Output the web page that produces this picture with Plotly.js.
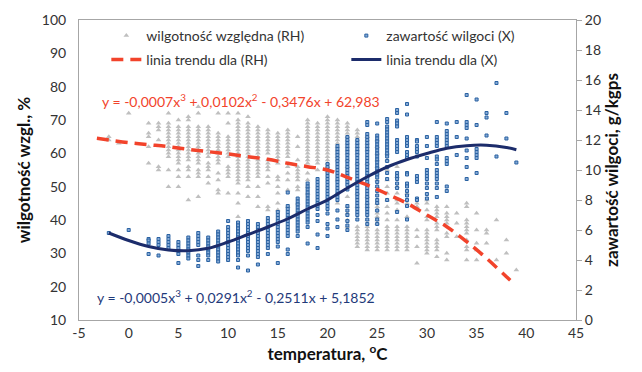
<!DOCTYPE html>
<html><head><meta charset="utf-8">
<script src="https://cdn.plot.ly/plotly-3.0.1.min.js"></script>
<style>html,body{margin:0;padding:0;background:#fff}#chart{width:642px;height:372px}</style>
</head><body><div id="chart"></div>
<script>
// Relative humidity (RH, %) readings, grouped by temperature column (°C)
const rhTemps = [-2,-1,0,2,3,4,5,6,7,8,9,10,11,12,13,14,15,16,17,18,19,20,21,22,23,24,25,26,27,28,29,30,31,32,33,34,35,36,37,38,39];
const rhValues = [
  [65,64],[63],[72],[69,66,65,62,57],[69,68,67,64,56,55],
  [72,69,68,67,66,65,64,63,62,61,60,59,55,50],
  [70,68,67,66,65,64,63,62,61,60,59,58,57,55,53,50],
  [71,70,68,67,66,65,64,63,62,61,60,59,58,56,55,53,46],
  [74,72,68,67,66,65,64,63,62,61,60,59,58,57,55,54,53,47],
  [68,67,66,65,64,63,62,61,60,59,57,56,55,53,51],
  [72,66,65,64,63,62,61,60,59,58,57,54,52,49,48],
  [72,69,65,64,63,62,61,60,59,56,55,54,53,48],
  [72,70,69,68,67,66,65,64,63,62,61,60,59,58,57,56,55,54,53,52,51,48,45,41],
  [71,69,68,67,66,65,64,63,62,61,60,59,58,57,56,55,54,53,52,50,47],
  [68,67,66,65,64,63,62,61,60,59,58,57,56,55,54,53,50,47,44],
  [67,66,65,64,63,62,61,60,58,57,56,55,53,51,44,43],
  [66,65,64,63,62,61,60,59,58,57,53,52,50,48,45,43],
  [67,66,65,64,63,62,61,60,59,56,54,52,49,44],
  [65,62,58,56,55,54,53,52,50,49,45],
  [70,69,68,67,66,65,64,63,62,61,60,59,58,57,54,52,50,48],
  [69,68,67,66,65,64,63,62,61,60,59,58,57,55],
  [71,70,69,68,67,66,65,64,63,62,61,60,59,58,57,56,55],
  [70,69,68,67,66,65,64,63,62,61,60,59,58,52,48,45],
  [69,68,67,66,65,64,63,62,61,60,58,56,53,47,44,42,40,38],
  [67,66,65,64,63,62,61,60,57,52,48,44,38,37,36,35,34,33,32],
  [65,64,63,62,61,57,53,51,47,45,44,40,38,37,36,35,34,33,32,31],
  [64,62,60,58,56,54,52,50,45,44,43,42,41,40,39,37,36,35,34,33,32,31],
  [60,58,55,52,50,48,46,44,42,40,38,37,36,35,34,33,32,31],
  [56,53,50,48,46,45,43,40,38,37,36,35,34,33,32,31],
  [48,45,41,38,37,36,35,34,33,32,31],
  [45,44,37,35,32,27],
  [46,45,43,41,40,37,36,35,34,33,32,31,30],
  [44,43,42,41,39,38,37,34,33,32,31,29],
  [44,42,41,40,39,36,35,30,28],
  [42,39,35],
  [45,44,40,39,38,37,36,34,32,31,28],
  [42,37,33,31,28],
  [37,36,33],[40,28],[34,30],[25]
];
// Moisture content (X, g/kg) readings, grouped by temperature column (°C)
const xTemps = [-2,0,2,3,4,5,6,7,8,9,10,11,12,13,14,15,16,17,18,19,20,21,22,23,24,25,26,27,28,29,30,31,32,33,34,35,36,37,38,39];
const xValues = [
  [5.8],[6.0],[5.4,5.3,5.1,4.4],[5.4,5.2,5.0,4.3],[5.6,5.4,5.2,5.0,4.8],
  [5.2,5.0,4.8,4.6,4.4,3.8],
  [5.5,5.3,5.1,4.9,4.7,4.5,4.3,4.1],
  [5.8,5.6,5.4,5.2,5.0,4.3,4.0,3.6],
  [5.5,5.3,5.1,4.9,4.7,4.5,4.3,4.0],
  [5.9,5.7,5.5,5.3,5.1,4.9,4.7,4.5,4.3,4.1,3.9],
  [6.6,6.2,6.0,5.8,5.6,5.4,5.2,5.0,4.8,4.6,4.4,4.2,4.0],
  [6.5,6.3,6.1,5.9,5.7,5.5,5.3,5.1,4.9,4.7,4.5,4.3,4.0,3.5],
  [6.6,6.4,6.2,6.0,5.8,5.6,5.4,5.2,5.0,4.8,4.6,4.3,3.3],
  [6.4,6.2,6.0,5.8,5.6,5.4,5.2,5.0,4.8,4.6,4.4,4.2,3.7],
  [6.8,6.6,6.4,6.2,6.0,5.8,5.6,5.4,5.2,5.0,4.8,4.4],
  [7.2,7.0,6.8,6.6,6.4,6.2,6.0,5.8,5.6,5.4,5.2,4.9,3.8],
  [8.5,7.6,7.4,7.2,7.0,6.8,6.6,6.4,6.2,6.0,5.8,5.6,4.7,4.4],
  [8.1,7.9,7.7,7.5,7.3,7.1,6.9,6.7,6.5,6.3,6.1,5.9,5.6],
  [9.1,8.9,8.7,8.5,8.3,8.1,7.9,7.7,7.5,7.3,7.1,6.9,6.7,6.5,6.2,5.1],
  [9.4,9.2,9.0,8.8,8.6,8.4,8.2,8.0,7.8,7.6,7.4,7.0,6.6,5.7,4.8],
  [10.4,10.2,10.0,9.8,9.6,9.4,9.2,9.0,8.8,8.6,8.4,8.2,8.0,7.8,7.6,7.4,7.1,6.4,6.1,5.6],
  [11.6,11.4,11.2,11.0,10.8,10.6,10.4,10.2,10.0,9.8,9.6,9.4,9.2,9.0,8.8,8.6,8.4,8.2,8.0,7.3,6.7,6.2],
  [12.2,12.0,11.8,11.6,11.4,11.2,11.0,10.8,10.6,10.4,10.2,10.0,9.8,9.6,9.4,9.2,9.0,8.7,7.6,7.3,7.0,6.6,6.3,6.0],
  [12.0,11.8,11.6,11.4,11.2,11.0,10.8,10.6,10.4,10.2,10.0,9.8,9.6,9.4,9.2,9.0,8.8,8.6,8.4,8.2,8.0,7.8,7.6,7.4,7.2,7.0,6.7],
  [13.2,13.0,12.4,12.2,12.0,11.8,11.6,11.4,11.2,11.0,10.8,10.6,10.4,10.2,10.0,9.8,9.6,9.4,9.2,9.0,8.8,8.6,8.4,8.2,8.0,7.8,7.6,7.4,7.2,7.0,6.7,6.4],
  [13.1,12.3,12.1,11.9,11.7,11.5,11.3,11.1,10.9,10.7,10.5,10.3,10.1,9.9,9.7,9.5,9.2,8.9,8.6,8.3,8.0,7.8,7.3,6.7,6.4],
  [13.4,13.2,12.9,12.7,12.5,12.3,12.1,11.9,11.7,11.5,11.3,11.1,10.9,10.6,10.2,9.8,9.4,8.0],
  [14.0,13.8,13.3,13.1,12.9,12.0,11.8,11.6,11.4,11.2,9.8,9.6,9.4,9.1,8.8,7.2],
  [14.4,13.7,12.2,12.0,11.8,11.6,11.2,11.0,10.8,9.8,9.7,9.1,8.9,8.6,8.3,8.0,7.6,6.7],
  [12.0,11.9,11.6,11.4,11.2,10.9,9.6,9.4,9.2,8.1,8.0],
  [12.2,11.6,10.8,10.0,9.8,9.6,9.4,9.1,8.8,8.4,8.1],
  [13.2,12.2,12.0,11.8,11.6,10.9,10.7,10.4,10.0,9.8,9.6,9.4,9.1,8.8,8.2],
  [13.1,12.6,12.4,12.2,12.0,11.8,11.6,10.8,10.6,10.4,8.9,8.6],
  [13.2,12.2,11.0],
  [15.0,13.2,13.0,12.8,12.1,11.3,10.8,10.2,9.4],
  [14.7,13.0,11.4,11.2,11.0,10.8,9.8],
  [13.8,13.5,12.3],[15.8,10.9],[13.8,12.1],[10.5]
];
// Trend lines
const rhTrendT = [-3.2,-2,0,2,4,6,8,10,12,14,16,18,20,22,24,26,28,30,32,34,36,38,38.9];
const rhTrendV = [64.5,64,63.2,62.6,62,61.2,60.5,59.8,59,58.2,57,56,55,52.8,50.5,47.8,45,41.5,38,33.5,28.5,23,20.5];
const xTrendT = [-2,0,2,4,6,8,10,12,14,16,18,20,22,24,26,28,30,32,34,36,38,39];
const xTrendV = [5.8,5.3,4.9,4.67,4.62,4.78,5.2,5.7,6.2,6.75,7.4,8.0,8.8,9.55,10.2,10.7,11.1,11.45,11.62,11.65,11.5,11.35];
// Tick labels
const xTickVals = [-5,0,5,10,15,20,25,30,35,40,45];
const xTickText = ['-5','0','5','10','15','20','25','30','35','40','45'];

const eqRH = 'y = -0,0007x<sup>3</sup> + 0,0102x<sup>2</sup> - 0,3476x + 62,983';
const eqX = 'y = -0,0005x<sup>3</sup> + 0,0291x<sup>2</sup> - 0,2511x + 5,1852';

function flatten(temps, vals) {
  const xs = [], ys = [];
  temps.forEach((t, i) => vals[i].forEach(v => { xs.push(t); ys.push(v); }));
  return [xs, ys];
}
const [rhX, rhY] = flatten(rhTemps, rhValues);
const [xX, xY] = flatten(xTemps, xValues);

const FONT = 'Lato, "Open Sans", sans-serif';
const data = [
  {x: rhX, y: rhY, type: 'scatter', mode: 'markers', name: 'wilgotność względna (RH)',
   marker: {symbol: 'triangle-up', size: 5, color: '#BFBFBF'}, yaxis: 'y', legend: 'legend'},
  {x: xX, y: xY, type: 'scatter', mode: 'markers', name: 'zawartość wilgoci (X)',
   marker: {symbol: 'square', size: 3, color: '#86AAD6', line: {color: '#2A62A2', width: 1}}, yaxis: 'y2', legend: 'legend'},
  {x: rhTrendT, y: rhTrendV, type: 'scatter', mode: 'lines', name: 'linia trendu dla (RH)',
   line: {color: '#F2432B', width: 3.5, dash: '12px,7px', shape: 'spline'}, yaxis: 'y3', legend: 'legend2'},
  {x: xTrendT, y: xTrendV, type: 'scatter', mode: 'lines', name: 'linia trendu dla (X)',
   line: {color: '#1C2C6B', width: 3, shape: 'spline'}, yaxis: 'y4', legend: 'legend2'}
];
const layout = {
  width: 642, height: 372,
  margin: {l: 79, r: 66, t: 20, b: 52},
  paper_bgcolor: '#fff', plot_bgcolor: '#fff',
  font: {family: FONT, size: 14, color: '#333'},
  showlegend: true,
  xaxis: {range: [-5, 45], tickvals: xTickVals, ticktext: xTickText, showgrid: false, zeroline: false,
    showline: true, mirror: true, linecolor: '#A6A6A6', linewidth: 1, ticks: '',
    tickfont: {size: 14, color: '#333'},
    title: {text: '<b>temperatura, <sup>o</sup>C</b>', font: {size: 17, color: '#111'}, standoff: 6}},
  yaxis: {range: [10, 100], dtick: 10, showgrid: false, zeroline: false, showline: true, linecolor: '#A6A6A6',
    ticks: '', ticklabelstandoff: 9, tickfont: {size: 14, color: '#333'},
    title: {text: '<b>wilgotność wzgl., %</b>', font: {size: 17, color: '#111'}, standoff: 6}},
  yaxis2: {range: [0, 20], dtick: 2, overlaying: 'y', side: 'right', showgrid: false, zeroline: false,
    showline: true, linecolor: '#A6A6A6', ticks: 'outside', ticklen: 5, tickcolor: '#A6A6A6',
    tickfont: {size: 14, color: '#333'},
    title: {text: '<b>zawartość wilgoci, g/kgps</b>', font: {size: 17, color: '#111'}, standoff: 4}},
  yaxis3: {range: [10, 100], overlaying: 'y', visible: false},
  yaxis4: {range: [0, 20], overlaying: 'y', visible: false},
  legend: {orientation: 'h', x: 0.055, xanchor: 'left', y: 1.0, yanchor: 'top',
    entrywidth: 195, bgcolor: 'rgba(0,0,0,0)', font: {size: 14, color: '#333'}, itemclick: false},
  legend2: {orientation: 'h', x: 0.055, xanchor: 'left', y: 0.92, yanchor: 'top',
    entrywidth: 195, bgcolor: 'rgba(0,0,0,0)', font: {size: 14, color: '#333'}, itemclick: false},
  annotations: [
    {x: 11.3, y: 76, xref: 'x', yref: 'y', text: eqRH, showarrow: false, font: {size: 14, color: '#F2432B'}},
    {x: 10.8, y: 17, xref: 'x', yref: 'y', text: eqX, showarrow: false, font: {size: 14, color: '#1F3A7A'}}
  ]
};
Plotly.newPlot('chart', data, layout, {displayModeBar: false, staticPlot: true});
</script></body></html>
